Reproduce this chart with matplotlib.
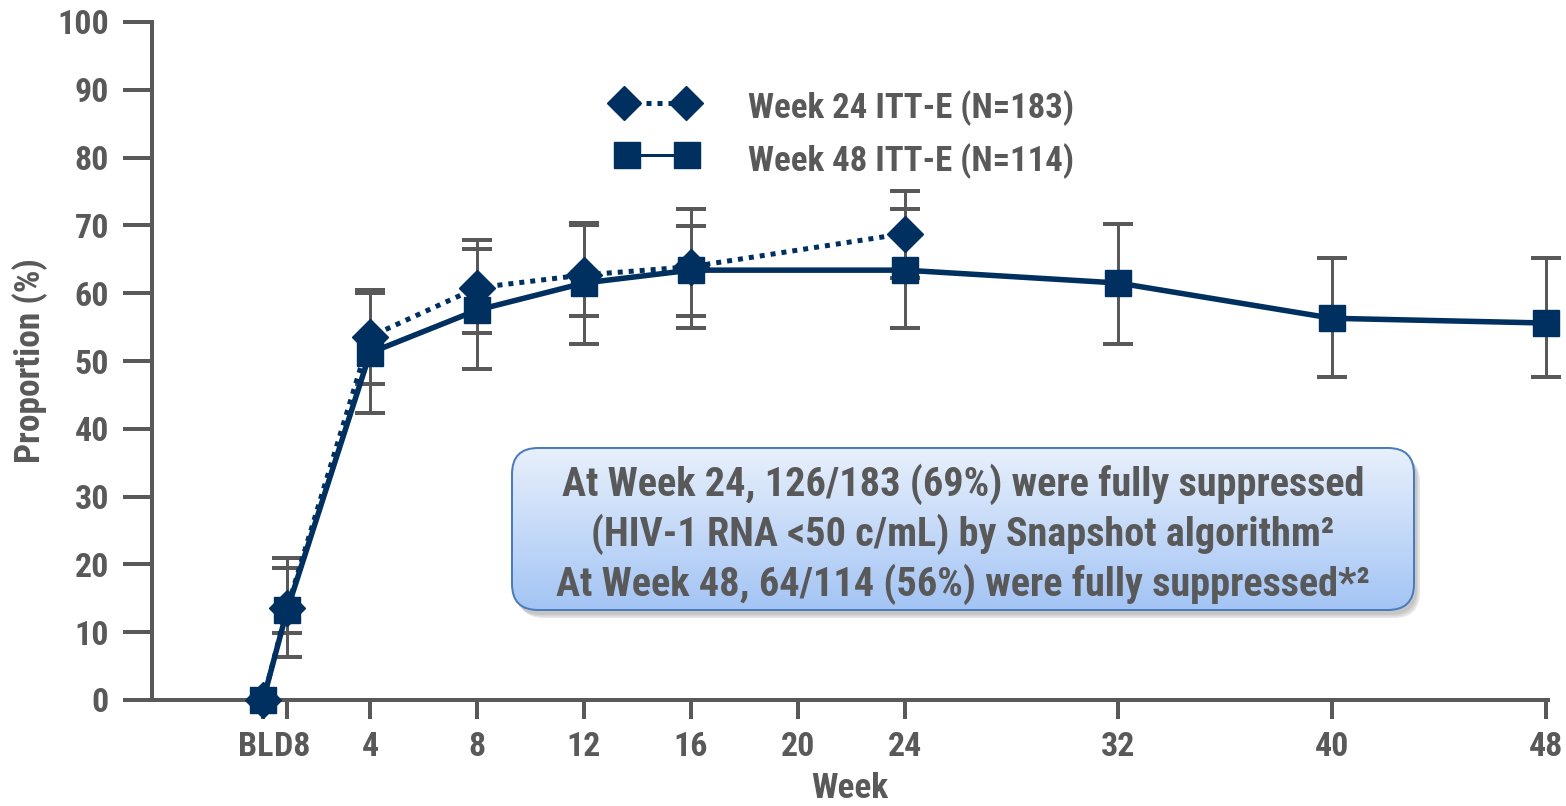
import matplotlib
matplotlib.use('Agg')
import matplotlib.pyplot as plt
import matplotlib.transforms as mtransforms
import numpy as np
from matplotlib.patches import FancyBboxPatch
from matplotlib.lines import Line2D

plt.rcParams['font.family'] = ['Roboto Condensed', 'Liberation Sans', 'DejaVu Sans']
plt.rcParams['font.weight'] = 'bold'

# ---------------- data ----------------
tick_weeks = [0, 0.9, 4, 8, 12, 16, 20, 24, 32, 40, 48]
tick_labels = ['BL', 'D8', '4', '8', '12', '16', '20', '24', '32', '40', '48']

w24_weeks = [0, 0.9, 4, 8, 12, 16, 24]
w24_vals = [0, 13.6, 53.6, 60.8, 62.7, 63.9, 68.8]
w24_low = [0, 9.9, 46.6, 54.1, 56.6, 56.6, 62.3]
w24_high = [0, 19.4, 60.4, 67.8, 70.3, 69.9, 75.1]

w48_weeks = [0, 0.9, 4, 8, 12, 16, 24, 32, 40, 48]
w48_vals = [0, 13.3, 51.2, 57.5, 61.5, 63.4, 63.4, 61.5, 56.3, 55.6]
w48_low = [0, 6.3, 42.4, 48.8, 52.5, 54.9, 54.9, 52.5, 47.6, 47.6]
w48_high = [0, 21.0, 60.1, 66.5, 70.1, 72.4, 72.4, 70.2, 65.2, 65.2]

legend_labels = ['Week 24 ITT-E (N=183)', 'Week 48 ITT-E (N=114)']
box_lines = ['At Week 24, 126/183 (69%) were fully suppressed',
             '(HIV-1 RNA <50 c/mL) by Snapshot algorithm\u00b2',
             'At Week 48, 64/114 (56%) were fully suppressed*\u00b2']

# ---------------- style ----------------
NAVY = '#00305f'
GRAY = '#595959'
W, H = 1566, 806
PT = 72 / 100.0  # points per pixel at dpi 100
FS_TICK = 24.5
FS_LAB = 25.5
FS_LEG = 25
FS_BOX = 29

fig = plt.figure(figsize=(W / 100, H / 100), dpi=100)
ax = fig.add_axes([152 / W, 106 / H, 1396 / W, 678 / H])
ax.set_xlim(-4.16, 48.07)
ax.set_ylim(0, 100)

for s in ['top', 'right']:
    ax.spines[s].set_visible(False)
for s in ['left', 'bottom']:
    ax.spines[s].set_color(GRAY)
    ax.spines[s].set_linewidth(4 * PT)

ax.set_yticks(np.arange(0, 101, 10))
ax.set_xticks(tick_weeks)
ax.set_xticklabels(tick_labels)
ax.tick_params(axis='y', direction='out', length=29 * PT, width=4 * PT, color=GRAY,
               labelsize=FS_TICK, labelcolor=GRAY, pad=14 * PT)
ax.tick_params(axis='x', direction='out', length=19 * PT, width=4 * PT, color=GRAY,
               labelsize=FS_TICK, labelcolor=GRAY, pad=12 * PT)

# BL and D8 labels sit side by side as "BLD8"
xl = ax.get_xticklabels()
xl[0].set_ha('right')
xl[0].set_transform(xl[0].get_transform() +
                    mtransforms.ScaledTranslation(10 / 100, 0, fig.dpi_scale_trans))
xl[1].set_ha('left')
xl[1].set_transform(xl[1].get_transform() +
                    mtransforms.ScaledTranslation(-13 / 100, 0, fig.dpi_scale_trans))

ax.set_xlabel('Week', fontsize=FS_LAB, color=GRAY, fontweight='bold')
ax.xaxis.set_label_coords(0.5, (806 - 798 - 106) / 678)
ax.xaxis.label.set_va('baseline')
ax.set_ylabel('Proportion (%)', fontsize=FS_LAB, color=GRAY, fontweight='bold')
ax.yaxis.set_label_coords((30 - 152) / 1396, 0.5)
ax.yaxis.label.set_va('center')

# error bars
def errs(vals, low, high):
    v = np.array(vals[1:]); lo = np.array(low[1:]); hi = np.array(high[1:])
    return v, [v - lo, hi - v]

v, e = errs(w24_vals, w24_low, w24_high)
ax.errorbar(w24_weeks[1:], v, yerr=e, fmt='none', ecolor=GRAY, elinewidth=3 * PT,
            capsize=15 * PT, capthick=4 * PT, zorder=2, clip_on=False)
v, e = errs(w48_vals, w48_low, w48_high)
ax.errorbar(w48_weeks[1:], v, yerr=e, fmt='none', ecolor=GRAY, elinewidth=3 * PT,
            capsize=15 * PT, capthick=4 * PT, zorder=2, clip_on=False)

# lines
ax.plot(w24_weeks, w24_vals, color=NAVY, lw=5 * PT, ls=(0, (1.0, 1.2)),
        dash_capstyle='butt', zorder=3, clip_on=False)
ax.plot(w48_weeks, w48_vals, color=NAVY, lw=5.5 * PT, ls='-', zorder=3, clip_on=False)
# markers
ax.plot(w24_weeks, w24_vals, ls='none', marker='D', ms=25 * PT, color=NAVY,
        mec=NAVY, zorder=4, clip_on=False)
ax.plot(w48_weeks, w48_vals, ls='none', marker='s', ms=27 * PT, color=NAVY,
        mec=NAVY, zorder=5, clip_on=False)

# ---------------- overlay in pixel coords ----------------
ov = fig.add_axes([0, 0, 1, 1], zorder=10)
ov.set_xlim(0, W)
ov.set_ylim(H, 0)
ov.axis('off')
ov.patch.set_alpha(0)

# legend
ov.add_line(Line2D([624, 686], [103, 103], color=NAVY, lw=5 * PT, ls=(0, (1.0, 1.2)),
                   dash_capstyle='butt', marker='D', ms=24 * PT, mec=NAVY))
ov.add_line(Line2D([627, 687], [155, 155], color=NAVY, lw=3 * PT, ls='-',
                   marker='s', ms=27 * PT, mec=NAVY))
ov.text(748, 104, legend_labels[0], fontsize=FS_LEG, color=GRAY, ha='left', va='center_baseline')
ov.text(748, 157, legend_labels[1], fontsize=FS_LEG, color=GRAY, ha='left', va='center_baseline')

# box with shadow and gradient
bx0, by0, bx1, by1 = 512, 448, 1414, 610
rad = 26
for i, a in enumerate([0.10, 0.10, 0.12]):
    off = 3 + i * 1.5
    sh = FancyBboxPatch((bx0 + off, by0 + off + 2), bx1 - bx0, by1 - by0,
                        boxstyle=f'round,pad=0,rounding_size={rad}',
                        fc='#404040', ec='none', alpha=a, zorder=1)
    ov.add_patch(sh)
box = FancyBboxPatch((bx0, by0), bx1 - bx0, by1 - by0,
                     boxstyle=f'round,pad=0,rounding_size={rad}',
                     fc='none', ec='#4a7cbc', lw=2 * PT, zorder=3)
ov.add_patch(box)
top = np.array([0xe8, 0xf0, 0xfc]) / 255
bot = np.array([0xa3, 0xc4, 0xf4]) / 255
t = np.linspace(0, 1, 256)[:, None]
grad = (top[None, :] * (1 - t) + bot[None, :] * t)[:, None, :]
im = ov.imshow(grad, extent=(bx0, bx1, by1, by0), origin='upper', aspect='auto',
               zorder=2, interpolation='bilinear')
im.set_clip_path(box)
ov.set_xlim(0, W)
ov.set_ylim(H, 0)

for i, line in enumerate(box_lines):
    ov.text(963, 496 + 50 * i, line, fontsize=FS_BOX, color=GRAY, ha='center',
            va='baseline', zorder=4)

fig.savefig('out.png', dpi=100)
